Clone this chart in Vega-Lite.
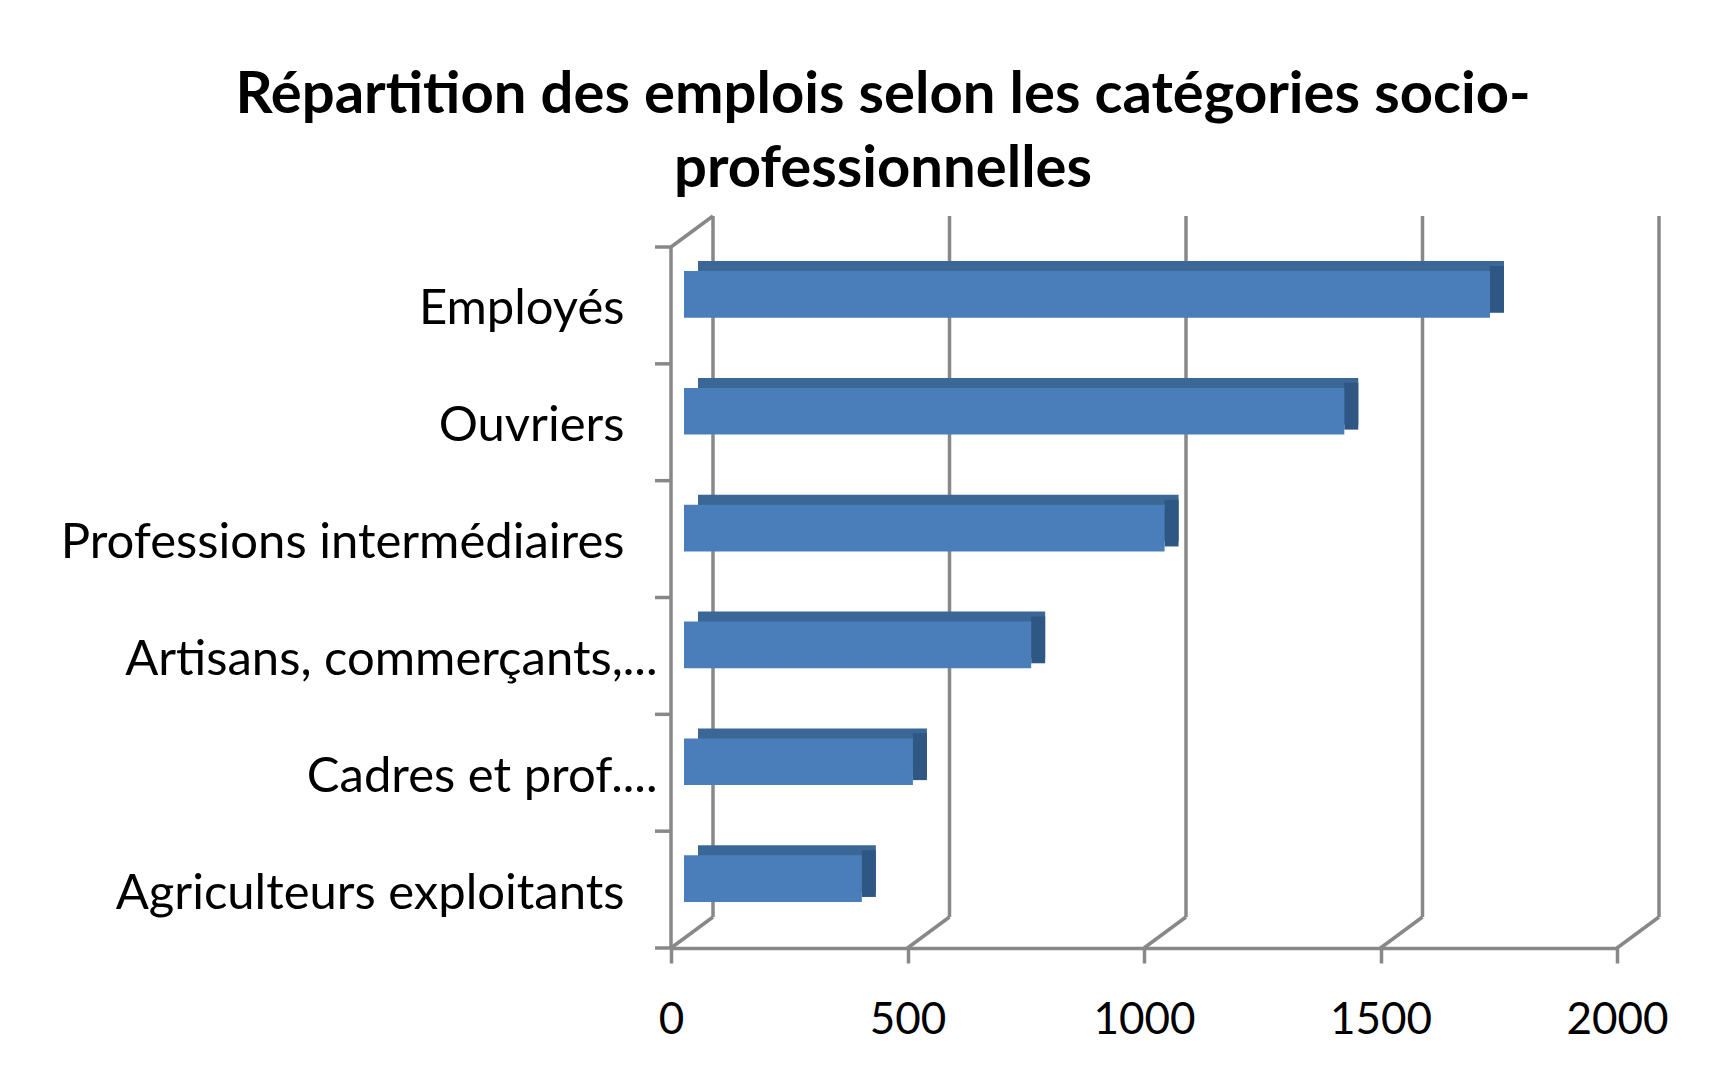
{
  "$schema": "https://vega.github.io/schema/vega-lite/v6.json",
  "width": 946,
  "height": 701,
  "autosize": "none",
  "padding": {"left": 671, "top": 247, "right": 100, "bottom": 131},
  "background": "white",
  "config": {
    "view": {"stroke": null},
    "font": "Lato",
    "axisX": {
      "title": null,
      "grid": false,
      "domainColor": "#888888",
      "domainWidth": 3.5,
      "tickColor": "#888888",
      "tickWidth": 3.5,
      "tickSize": 15,
      "labelPadding": 35,
      "labelFont": "Lato",
      "labelFontSize": 44,
      "labelColor": "black",
      "labelFlush": false
    }
  },
  "title": {
    "text": ["Répartition des emplois selon les catégories socio-", "professionnelles"],
    "font": "Lato",
    "fontSize": 58,
    "fontWeight": "bold",
    "color": "black",
    "anchor": "middle",
    "frame": "group",
    "dx": -261,
    "dy": 59,
    "baseline": "alphabetic",
    "lineHeight": 74,
    "offset": 28
  },
  "datasets": {
    "cats": [
      {"cat": "Employés", "v": 1704},
      {"cat": "Ouvriers", "v": 1396},
      {"cat": "Professions intermédiaires", "v": 1016},
      {"cat": "Artisans, commerçants,...", "v": 734},
      {"cat": "Cadres et prof....", "v": 484},
      {"cat": "Agriculteurs exploitants", "v": 376}
    ],
    "grid": [{"v": 0}, {"v": 500}, {"v": 1000}, {"v": 1500}, {"v": 2000}],
    "wall": [{"v": 0}],
    "ticks": [{"t": 0}, {"t": 0.16667}, {"t": 0.33333}, {"t": 0.5}, {"t": 0.66667}, {"t": 0.83333}, {"t": 1}]
  },
  "layer": [
    {
      "data": {"name": "grid"},
      "layer": [
        {
          "mark": {"type": "rule", "color": "#888888", "strokeWidth": 3.5, "xOffset": 42, "x2Offset": 42, "yOffset": -31, "y2Offset": -31},
          "encoding": {
            "x": {"field": "v", "type": "quantitative", "scale": {"domain": [0, 2000], "nice": false}, "axis": {"values": [0, 500, 1000, 1500, 2000], "format": "d"}},
            "x2": {"field": "v"},
            "y": {"datum": 0, "type": "quantitative", "scale": {"domain": [0, 1], "nice": false}, "axis": null},
            "y2": {"datum": 1}
          }
        },
        {
          "mark": {"type": "rule", "color": "#888888", "strokeWidth": 3.5, "x2Offset": 42, "y2Offset": -31},
          "encoding": {
            "x": {"field": "v", "type": "quantitative", "scale": {"domain": [0, 2000], "nice": false}, "axis": {"values": [0, 500, 1000, 1500, 2000], "format": "d"}},
            "x2": {"field": "v"},
            "y": {"datum": 0, "type": "quantitative", "scale": {"domain": [0, 1], "nice": false}, "axis": null},
            "y2": {"datum": 0}
          }
        }
      ]
    },
    {
      "data": {"name": "wall"},
      "layer": [
        {
          "mark": {"type": "rule", "color": "#888888", "strokeWidth": 3.5},
          "encoding": {
            "x": {"field": "v", "type": "quantitative", "scale": {"domain": [0, 2000], "nice": false}, "axis": {"values": [0, 500, 1000, 1500, 2000], "format": "d"}},
            "x2": {"field": "v"},
            "y": {"datum": 0, "type": "quantitative", "scale": {"domain": [0, 1], "nice": false}, "axis": null},
            "y2": {"datum": 1}
          }
        },
        {
          "mark": {"type": "rule", "color": "#888888", "strokeWidth": 3.5, "x2Offset": 42, "y2Offset": -31},
          "encoding": {
            "x": {"field": "v", "type": "quantitative", "scale": {"domain": [0, 2000], "nice": false}, "axis": {"values": [0, 500, 1000, 1500, 2000], "format": "d"}},
            "x2": {"field": "v"},
            "y": {"datum": 1, "type": "quantitative", "scale": {"domain": [0, 1], "nice": false}, "axis": null},
            "y2": {"datum": 1}
          }
        }
      ]
    },
    {
      "data": {"name": "ticks"},
      "mark": {"type": "rule", "color": "#888888", "strokeWidth": 3.5, "x2Offset": -16},
      "encoding": {
        "x": {"datum": 0, "type": "quantitative", "scale": {"domain": [0, 2000], "nice": false}, "axis": {"values": [0, 500, 1000, 1500, 2000], "format": "d"}},
        "x2": {"datum": 0},
        "y": {"field": "t", "type": "quantitative", "scale": {"domain": [0, 1], "nice": false}, "axis": null}
      }
    },
    {
      "data": {"name": "cats"},
      "encoding": {
        "y": {
          "field": "cat",
          "type": "nominal",
          "sort": null,
          "scale": {"paddingInner": 0.6, "paddingOuter": 0.3},
          "axis": {
            "orient": "left",
            "title": null,
            "ticks": false,
            "domain": false,
            "labelFont": "Lato",
            "labelFontSize": 49,
            "labelColor": "black",
            "labelLimit": 800,
            "labelOffset": 4,
            "labelPadding": {"condition": {"test": "indexof(datum.label, '...') >= 0", "value": 14}, "value": 47}
          }
        }
      },
      "layer": [
        {
          "mark": {"type": "bar", "color": "#3B6796", "xOffset": 27, "x2Offset": 27, "yOffset": -21},
          "encoding": {
            "x": {"field": "v", "type": "quantitative", "scale": {"domain": [0, 2000], "nice": false}, "axis": {"values": [0, 500, 1000, 1500, 2000], "format": "d"}}
          }
        },
        {
          "mark": {"type": "bar", "color": "#2E5883", "xOffset": 13, "x2Offset": 27, "yOffset": -16},
          "encoding": {
            "x": {"field": "v", "type": "quantitative", "scale": {"domain": [0, 2000], "nice": false}, "axis": {"values": [0, 500, 1000, 1500, 2000], "format": "d"}},
            "x2": {"field": "v"}
          }
        },
        {
          "mark": {"type": "bar", "color": "#4A7EBB", "xOffset": 13, "x2Offset": 13, "yOffset": -11},
          "encoding": {
            "x": {"field": "v", "type": "quantitative", "scale": {"domain": [0, 2000], "nice": false}, "axis": {"values": [0, 500, 1000, 1500, 2000], "format": "d"}}
          }
        }
      ]
    }
  ],
  "resolve": {"scale": {"y": "independent"}}
}
